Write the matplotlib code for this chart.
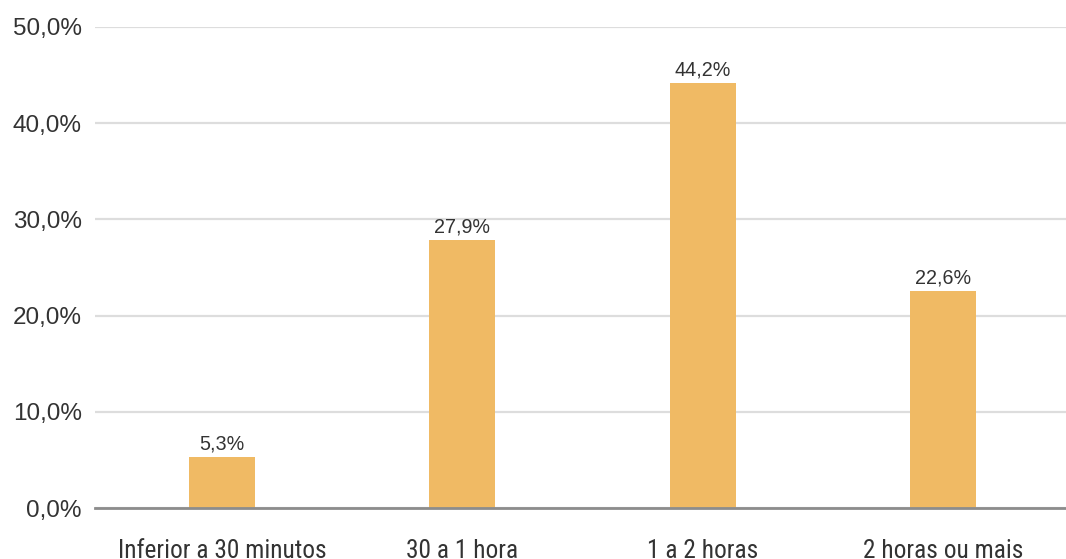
import matplotlib
matplotlib.use("Agg")
import matplotlib.pyplot as plt
from matplotlib import font_manager

categories = ["Inferior a 30 minutos", "30 a 1 hora", "1 a 2 horas", "2 horas ou mais"]
values = [5.3, 27.9, 44.2, 22.6]
yticks = [0, 10, 20, 30, 40, 50]

available = {f.name for f in font_manager.fontManager.ttflist}
base_font = "Liberation Sans" if "Liberation Sans" in available else "DejaVu Sans"
narrow_font = base_font
for cand in ["Roboto Condensed", "Liberation Sans Narrow", "Open Sans Condensed", "DejaVu Sans Condensed"]:
    if cand in available:
        narrow_font = cand
        break

text_color = "#333333"
bar_color = "#F0BA64"

fig = plt.figure(figsize=(10.66, 5.59), dpi=100)
ax = fig.add_axes([95 / 1066, 1 - 508 / 559, 1 - 95 / 1066, (508 - 27) / 559])

x = list(range(len(categories)))
ax.bar(x, values, width=0.275, color=bar_color, zorder=3)

for xi, v in zip(x, values):
    ax.text(xi, v + 0.35, f"{v:.1f}%".replace(".", ","), ha="center", va="bottom",
            fontsize=14.2, color=text_color, family=base_font, zorder=4)

ax.set_xlim(-0.528, 3.51)
ax.set_ylim(0, 50)
ax.set_yticks(yticks)
ax.set_yticklabels([f"{t:.1f}%".replace(".", ",") for t in yticks],
                   fontsize=17.5, color=text_color, family=base_font)
ax.set_xticks(x)
ax.set_xticklabels(categories, fontsize=18.3, color=text_color, family=narrow_font)

ax.tick_params(axis="y", length=0, pad=9.5)
ax.tick_params(axis="x", length=0, pad=22)

ax.grid(axis="y", color="#DDDDDD", linewidth=1.6, zorder=0)
ax.set_axisbelow(True)
for side in ["top", "right", "left"]:
    ax.spines[side].set_visible(False)
ax.spines["bottom"].set_color("#8C8C8C")
ax.spines["bottom"].set_linewidth(2)
ax.spines["bottom"].set_zorder(5)

fig.savefig("out.png", dpi=100)
